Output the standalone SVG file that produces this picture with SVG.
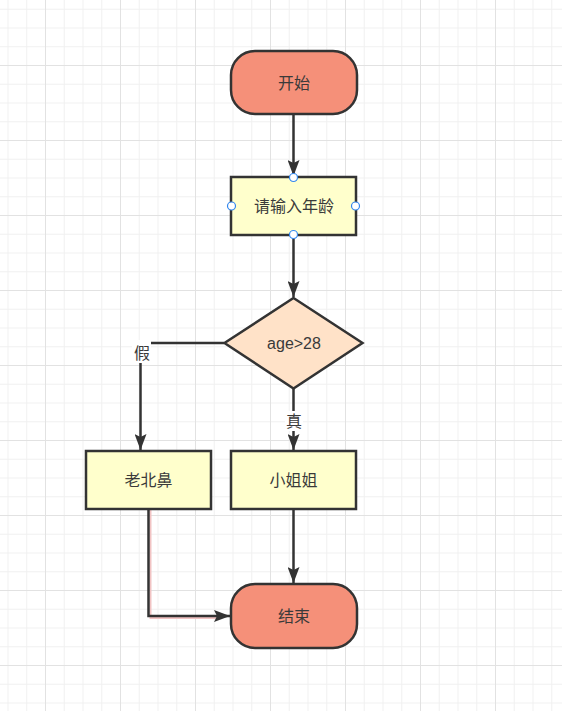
<svg xmlns="http://www.w3.org/2000/svg" width="562" height="711" viewBox="0 0 562 711">
<style>
text{font-family:"Liberation Sans","Noto Sans CJK SC",sans-serif;font-size:16px;fill:#3a3a3a;text-anchor:middle;dominant-baseline:central}
.term{fill:#F59079;stroke:#333;stroke-width:2.5}
.proc{fill:#FFFFCC;stroke:#333;stroke-width:2.5}
.dec{fill:#FFE2C8;stroke:#333;stroke-width:2.5}
.edge{fill:none;stroke:#333;stroke-width:2.5}
.pt{fill:#fff;stroke:#3388ee;stroke-width:1.2}
</style>
<defs>
<pattern id="minor" x="7.5" y="8.75" width="18.75" height="18.75" patternUnits="userSpaceOnUse">
<path d="M0,0.5 H18.75 M0.5,0 V18.75" stroke="#f0f0f0" stroke-width="1" fill="none"/>
</pattern>
<pattern id="major" x="45" y="65" width="75" height="75" patternUnits="userSpaceOnUse">
<path d="M0,0.5 H75 M0.5,0 V75" stroke="#e2e2e2" stroke-width="1" fill="none"/>
</pattern>
<marker id="arr" viewBox="0 0 16 12" refX="16" refY="6" markerWidth="16" markerHeight="12" markerUnits="userSpaceOnUse" orient="auto">
<path d="M0,0 L16,6 L0,12 L3,6 z" fill="#333"/>
</marker>
</defs>
<rect width="562" height="711" fill="#fff"/>
<rect width="562" height="711" fill="url(#minor)"/>
<rect width="562" height="711" fill="url(#major)"/>

<g id="connectors">
<path class="edge" d="M293.5,114 V176" marker-end="url(#arr)"/>
<path class="edge" d="M293.5,235 V297" marker-end="url(#arr)"/>
<path class="edge" d="M224,343 H140.5 V450" marker-end="url(#arr)"/>
<path class="edge" d="M293.5,389 V450" marker-end="url(#arr)"/>
<path class="edge" d="M293.5,509 V583" marker-end="url(#arr)"/>
<path d="M150.5,509 V618 H222" fill="none" stroke="#f2c4c4" stroke-width="2"/>
<path class="edge" d="M148.5,509 V616 H230" marker-end="url(#arr)"/>
<g id="label-false">
<rect x="132" y="340" width="19" height="23" fill="#fff"/>
<text x="142" y="353">假</text>
</g>
<g id="label-true">
<rect x="285" y="411" width="18" height="20" fill="#fff"/>
<text x="294" y="421">真</text>
</g>
</g>

<g id="start">
<rect class="term" x="231" y="51" width="126" height="63" rx="24" ry="24"/>
<text x="294" y="83">开始</text>
</g>

<g id="input">
<rect class="proc" x="231" y="177" width="125" height="58"/>
<text x="294" y="206">请输入年龄</text>
<circle class="pt" cx="293.5" cy="177.5" r="4"/>
<circle class="pt" cx="231.5" cy="206" r="4"/>
<circle class="pt" cx="355.5" cy="206" r="4"/>
<circle class="pt" cx="293.5" cy="234.5" r="4"/>
</g>

<g id="decision">
<polygon class="dec" points="293.5,298 362.5,343 293.5,388.5 224.5,343"/>
<text x="294" y="343">age&gt;28</text>
</g>

<g id="false-node">
<rect class="proc" x="86" y="451" width="125" height="58"/>
<text x="148.5" y="480">老北鼻</text>
</g>

<g id="true-node">
<rect class="proc" x="231" y="451" width="125" height="58"/>
<text x="293.5" y="480">小姐姐</text>
</g>

<g id="end">
<rect class="term" x="231" y="584" width="126" height="64" rx="24" ry="24"/>
<text x="294" y="616">结束</text>
</g>
</svg>
